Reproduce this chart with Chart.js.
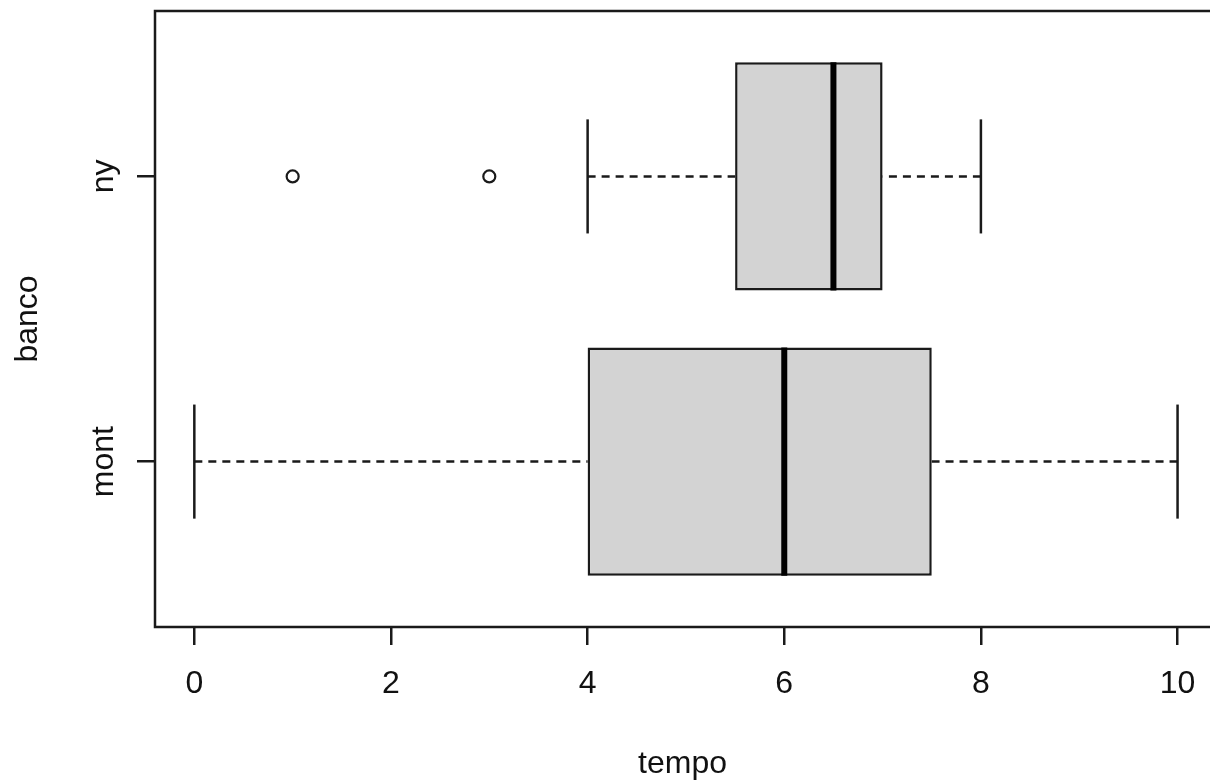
<!DOCTYPE html>
<html>
<head>
<meta charset="utf-8">
<title>tempo x banco</title>
<script src="https://cdn.jsdelivr.net/npm/chart.js@4.4.1/dist/chart.umd.min.js"></script>
<style>
  body { margin: 0; background: #fff; }
  #box { width: 1210px; height: 780px; }
</style>
</head>
<body>
<div id="box"><canvas id="boxplot"></canvas></div>
<script>
// dados do boxplot (tempo por banco)
var bancos = ['mont', 'ny'];
var minimo = [0, 4];
var q1 = [4, 5.5];
var mediana = [6, 6.5];
var q3 = [7.5, 7];
var maximo = [10, 8];
var outliers = [[], [1, 3]];
var xTicks = [0, 2, 4, 6, 8, 10];

var corLinha = '#1a1a1a';
var meiaCaixa = 0.4;  // metade da largura da caixa (unidades do eixo y)
var meiaHaste = 0.2;  // metade do traço no fim do bigode
var fonte = {family: "'Liberation Sans', Arial, sans-serif", size: 32};

Chart.defaults.font.family = fonte.family;

function segmento(x0, y0, x1, y1, largura, tracejado, cor) {
    return {
        type: 'line',
        data: [{x: x0, y: y0}, {x: x1, y: y1}],
        borderColor: cor || corLinha,
        borderWidth: largura,
        borderDash: tracejado || [],
        borderCapStyle: 'butt',
        pointRadius: 0,
        fill: false,
        order: 2
    };
}

var datasets = [];
datasets.push({
    type: 'bar',
    indexAxis: 'y',
    data: bancos.map(function(b, i) { return {y: i + 1, x: [q1[i], q3[i]]}; }),
    backgroundColor: '#d3d3d3',
    borderColor: corLinha,
    borderWidth: 2.5,
    borderSkipped: false,
    barPercentage: 0.8,
    categoryPercentage: 1,
    order: 3
});
for (var i = 0; i < bancos.length; i++) {
    var y = i + 1;
    // bigodes tracejados, do extremo ate a caixa
    datasets.push(segmento(minimo[i], y, q1[i], y, 2.5, [8, 6]));
    datasets.push(segmento(maximo[i], y, q3[i], y, 2.5, [8, 6]));
    datasets.push(segmento(minimo[i], y - meiaHaste, minimo[i], y + meiaHaste, 2.5));
    datasets.push(segmento(maximo[i], y - meiaHaste, maximo[i], y + meiaHaste, 2.5));
    var med = segmento(mediana[i], y - meiaCaixa, mediana[i], y + meiaCaixa, 6, null, '#000');
    med.order = 1;
    datasets.push(med);
}
var pontos = [];
outliers.forEach(function(lista, i) {
    lista.forEach(function(v) { pontos.push({x: v, y: i + 1}); });
});
datasets.push({
    type: 'scatter',
    data: pontos,
    pointStyle: 'circle',
    pointRadius: 6,
    pointBorderWidth: 2.2,
    pointBorderColor: corLinha,
    pointBackgroundColor: 'rgba(0,0,0,0)',
    order: 0
});

// moldura do grafico (o lado direito fica fora da imagem)
var moldura = {
    id: 'moldura',
    afterDraw: function(chart) {
        var a = chart.chartArea, ctx = chart.ctx;
        ctx.save();
        ctx.strokeStyle = corLinha;
        ctx.lineWidth = 2.5;
        ctx.beginPath();
        ctx.moveTo(a.right + 2, a.top);
        ctx.lineTo(a.left, a.top);
        ctx.lineTo(a.left, a.bottom);
        ctx.lineTo(a.right + 2, a.bottom);
        ctx.stroke();
        ctx.restore();
    }
};

function semPadding(axis) {
    axis.paddingLeft = 0;
    axis.paddingRight = 0;
    axis.paddingTop = 0;
    axis.paddingBottom = 0;
}

new Chart(document.getElementById('boxplot'), {
    type: 'scatter',
    data: {datasets: datasets},
    plugins: [moldura],
    options: {
        responsive: true,
        maintainAspectRatio: false,
        animation: false,
        layout: {autoPadding: false, padding: {top: 11, left: 0, right: 0, bottom: 0}},
        plugins: {legend: {display: false}, tooltip: {enabled: false}},
        scales: {
            x: {
                type: 'linear',
                min: -0.4,
                max: 10.33,
                offset: false,
                afterBuildTicks: function(axis) {
                    axis.ticks = xTicks.map(function(v) { return {value: v}; });
                },
                afterFit: function(axis) { axis.height = 153; semPadding(axis); },
                border: {display: false},
                grid: {offset: false, drawOnChartArea: false, drawTicks: true, tickLength: 18, color: corLinha, lineWidth: 2.5},
                ticks: {color: '#111', font: fonte, padding: 20, maxRotation: 0},
                title: {display: true, text: 'tempo', color: '#111', font: fonte, padding: {top: 0, bottom: -3}}
            },
            y: {
                type: 'linear',
                min: 0.42,
                max: 2.58,
                offset: false,
                afterBuildTicks: function(axis) {
                    axis.ticks = bancos.map(function(b, i) { return {value: i + 1}; });
                },
                afterFit: function(axis) { axis.width = 155; semPadding(axis); },
                border: {display: false},
                grid: {offset: false, drawOnChartArea: false, drawTicks: true, tickLength: 18, color: corLinha, lineWidth: 2.5},
                ticks: {
                    color: '#111',
                    font: fonte,
                    padding: -3,
                    minRotation: 90,
                    maxRotation: 90,
                    crossAlign: 'center',
                    callback: function(v) { return bancos[v - 1]; }
                },
                title: {display: true, text: 'banco', color: '#111', font: fonte, padding: {top: 9, bottom: 0}}
            }
        }
    }
});
</script>
</body>
</html>
